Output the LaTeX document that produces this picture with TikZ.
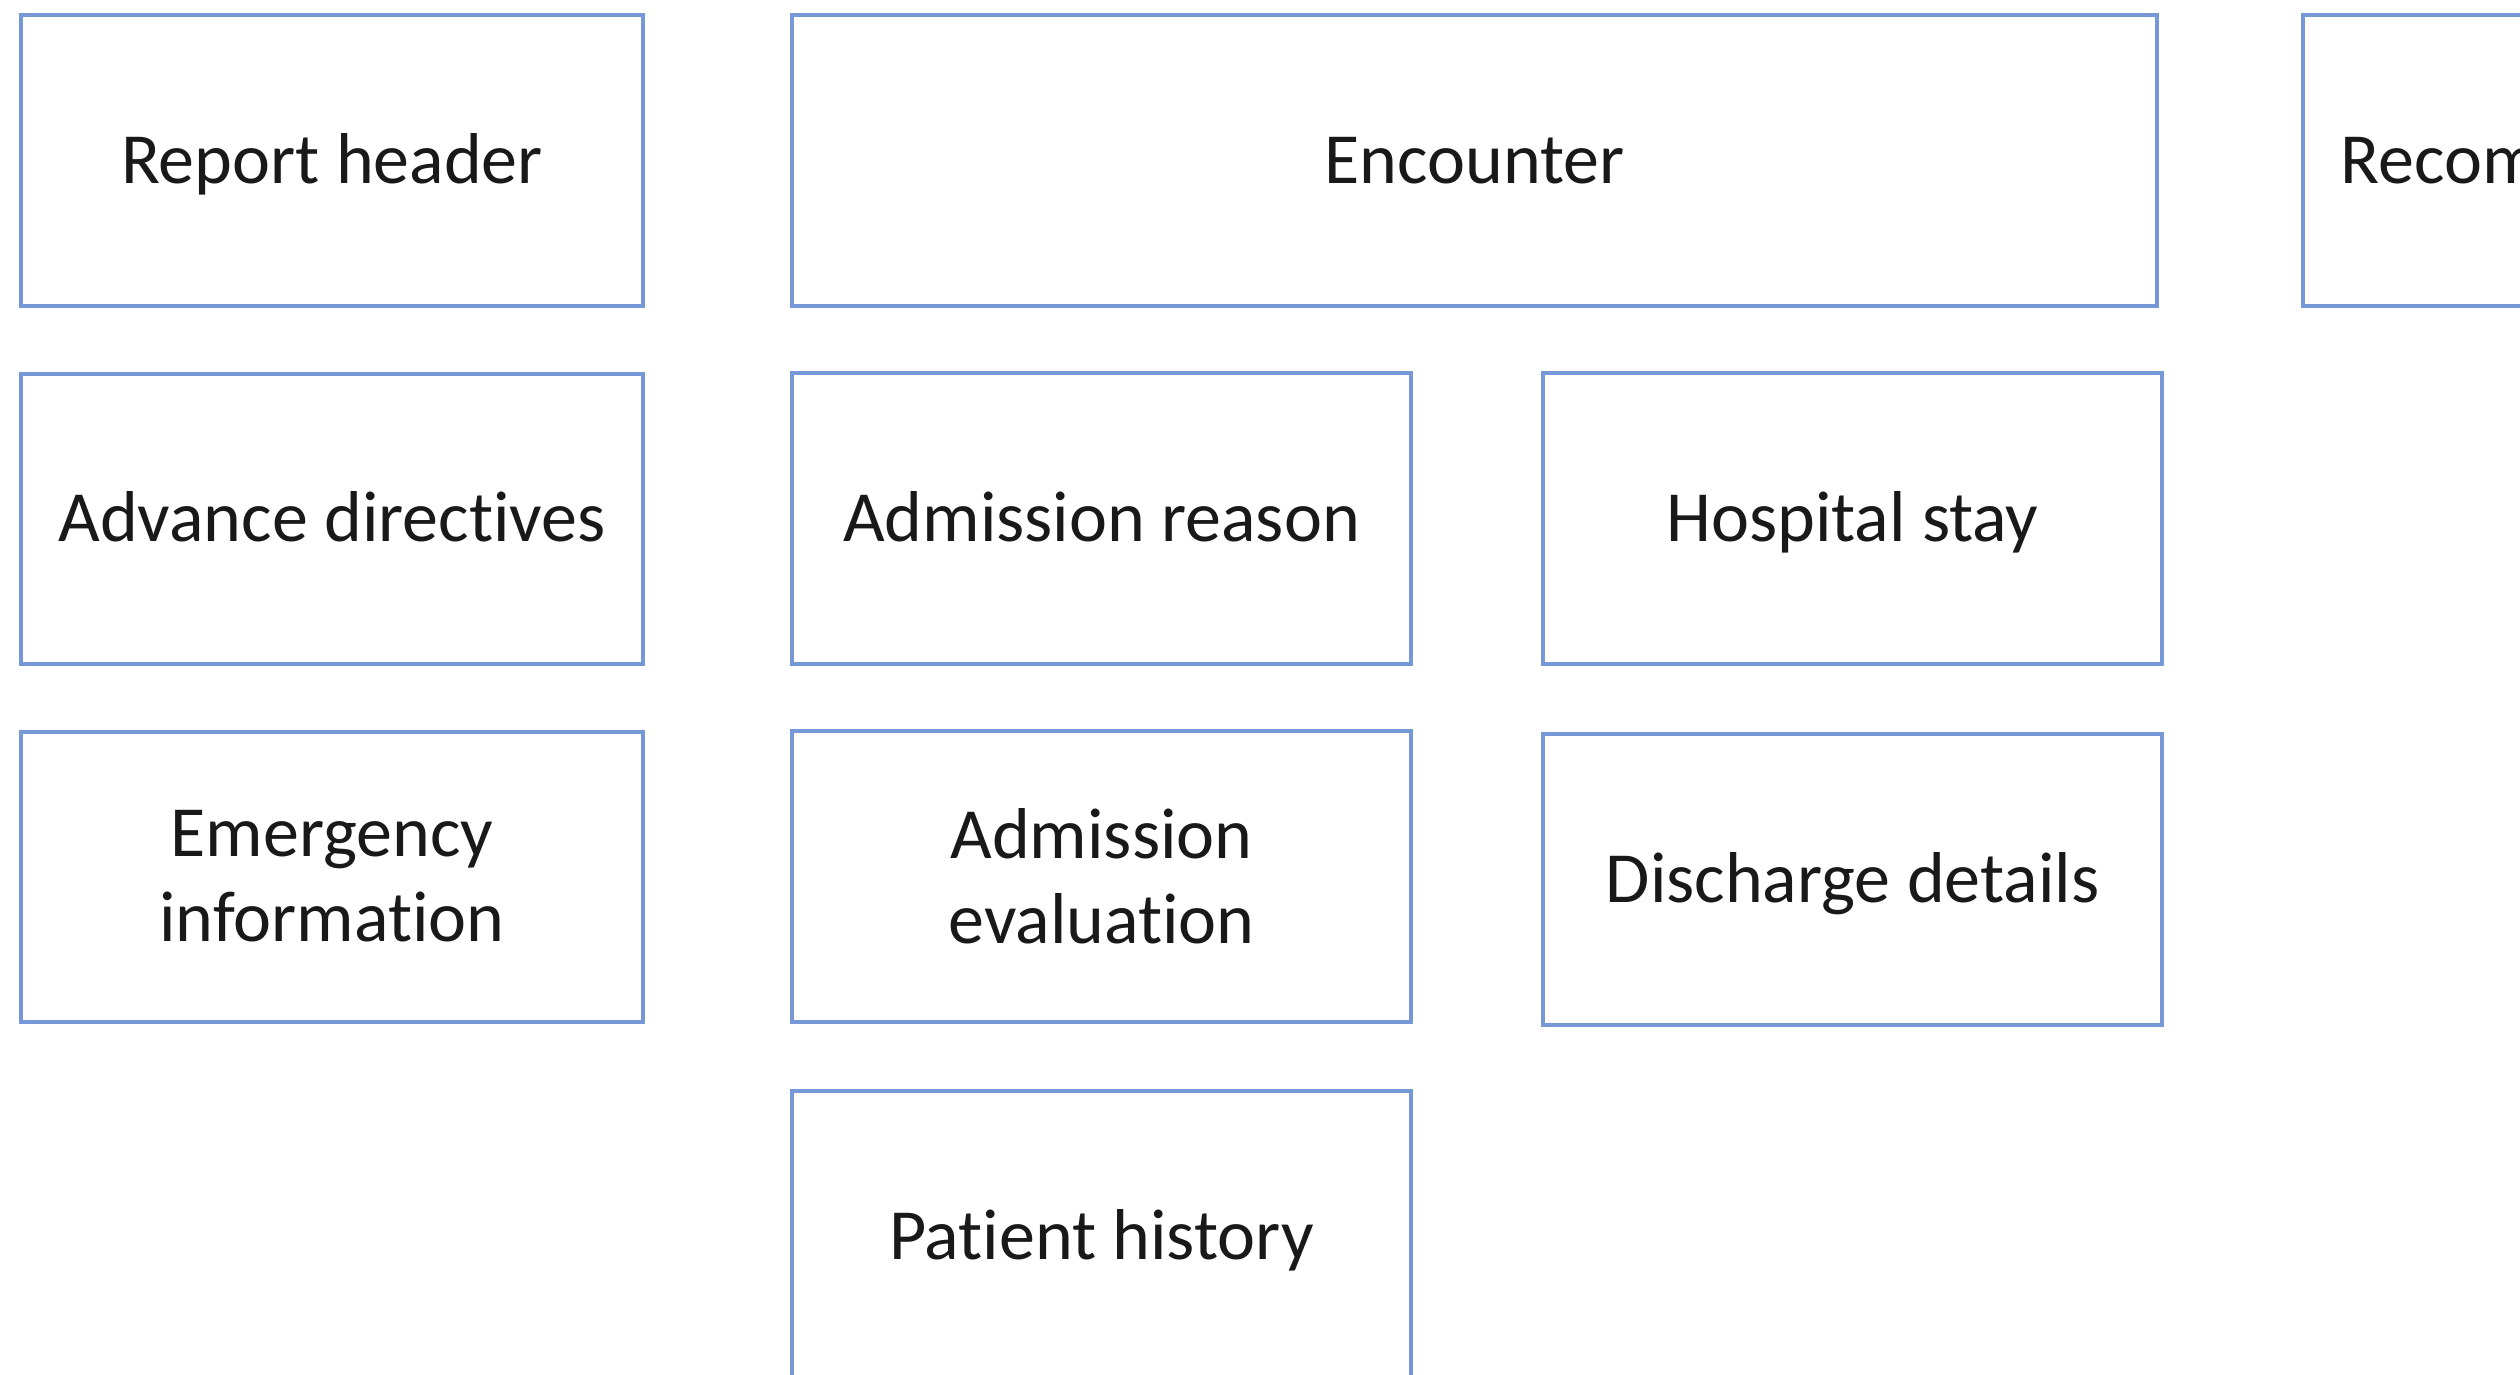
\documentclass[tikz,border=0pt]{standalone}
\usepackage{fontspec}
\setmainfont{Carlito}[RawFeature={-liga;-clig;-calt;-dlig}]
\definecolor{boxblue}{RGB}{118,152,214}
\begin{document}
\begin{tikzpicture}[x=0.5pt,y=-0.5pt,
  box/.style={draw=boxblue,line width=2pt,fill=white,rectangle,inner sep=0pt,
    align=center,font=\fontsize{36pt}{42.5pt}\selectfont,text=black!90},
  one/.style={text height=23pt,text depth=0pt},
  wide/.style={minimum width=311pt,minimum height=145pt}]
\useasboundingbox (0,0) rectangle (2520,1375);
\clip (0,0) rectangle (2520,1375);
\fill[white] (0,0) rectangle (2520,1375);
% row 1
\node[box,one,wide] (header) at (332,160.5) {Report header};
\node[box,one,minimum width=682.5pt,minimum height=145pt] (enc) at (1474.5,160.5) {Encounter};
\node[box,one,wide] (rec) at (2614,160.5) {Recommendations};
% row 2
\node[box,one,wide] (adv) at (332,518.5) {Advance directives};
\node[box,one,minimum width=309.5pt,minimum height=145.5pt] (admr) at (1101.5,518.5) {Admission reason};
\node[box,one,minimum width=309.5pt,minimum height=145.5pt] (hosp) at (1852.5,518.5) {Hospital stay};
% row 3
\node[box,wide] (emer) at (332,876.5) {Emergency\\information};
\node[box,minimum width=309.5pt,minimum height=145.5pt] (adme) at (1101.5,876.5) {Admission\\evaluation};
\node[box,one,minimum width=309.5pt,minimum height=145.5pt] (disc) at (1852.5,879.5) {Discharge details};
% row 4
\node[box,one,minimum width=309.5pt,minimum height=145pt] (hist) at (1101.5,1236) {Patient history};
\end{tikzpicture}
\end{document}
